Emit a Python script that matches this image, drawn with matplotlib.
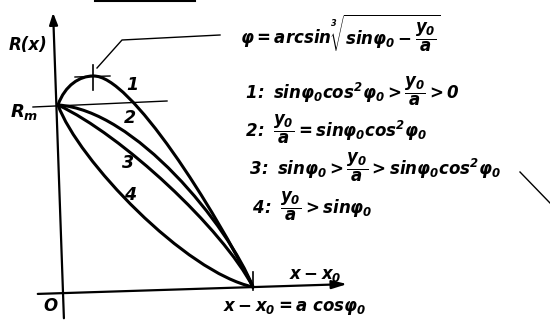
import matplotlib
matplotlib.use("Agg")
import matplotlib.pyplot as plt
from matplotlib.path import Path
from matplotlib.patches import PathPatch, FancyArrowPatch

plt.rcParams.update({
    "font.family": "DejaVu Sans",
    "mathtext.fontset": "custom",
    "mathtext.rm": "DejaVu Sans:italic:bold",
    "mathtext.it": "DejaVu Sans:italic:bold",
    "mathtext.bf": "DejaVu Sans:italic:bold",
})

# diagram in image units (x right, y down), origin at top-left
START = (58, 105)          # R_m on the R axis
END = (253, 287)           # x - x0 = a cos(phi0)
PEAK = (93, 76)            # maximum of curve 1

# cubic Bezier control points of each curve
CURVE1 = [START, (65, 85), (80, 76), PEAK, (130, 74), (215, 210), END]
CURVE2 = [START, (135, 110), (228, 225), END]
CURVE3 = [START, (122, 135), (222, 228), END]
CURVE4 = [START, (78, 160), (185, 272), END]
CURVES = [CURVE1, CURVE2, CURVE3, CURVE4]

CURVE_LABELS = ["1", "2", "3", "4"]
LABEL_POS = [(132, 85), (130, 118), (128, 163), (130, 195)]

SIN = r"\mathrm{sin}\varphi_0"
COS2 = r"\mathrm{cos}^2\varphi_0"
FRAC = r"\dfrac{y_0}{a}"
FORMULA = r"$\varphi = \mathrm{arcsin}\sqrt[3]{" + SIN + " - " + FRAC + "}$"
CASES = [
    "$1\\!:\\ " + SIN + COS2 + " > " + FRAC + " > 0$",
    "$2\\!:\\ " + FRAC + " = " + SIN + COS2 + "$",
    "$3\\!:\\ " + SIN + " > " + FRAC + " > " + SIN + COS2 + "$",
    "$4\\!:\\ " + FRAC + " > " + SIN + "$",
]
CASE_POS = [(245, 91), (245, 129), (249, 167), (252, 206)]

fig = plt.figure(figsize=(5.5, 3.21), dpi=100)
ax = fig.add_axes([0, 0, 1, 1])
ax.set_xlim(0, 550)
ax.set_ylim(321, 0)
ax.axis("off")

# axes of the sketch
ax.add_patch(FancyArrowPatch((64, 321), (53, 10), arrowstyle="-|>,head_length=7,head_width=2.5",
                             lw=1.6, color="black", mutation_scale=1))
ax.add_patch(FancyArrowPatch((35, 294), (350, 284), arrowstyle="-|>,head_length=9,head_width=2.5",
                             lw=1.6, color="black", mutation_scale=1))

for pts in CURVES:
    codes = [Path.MOVETO] + [Path.CURVE4] * (len(pts) - 1)
    ax.add_patch(PathPatch(Path(pts, codes), fill=False, lw=2.2, color="black",
                           capstyle="round", joinstyle="round"))

# R_m level, peak marks, leader line
ax.plot([33, 167], [107, 101], color="black", lw=1.0)
ax.plot([75, 110], [77, 76], color="black", lw=1.0)
ax.plot([93, 93], [65, 90], color="black", lw=1.2)
ax.plot([97, 122, 220], [68, 40, 35], color="black", lw=1.0)
ax.plot([253, 253], [272, 290], color="black", lw=1.2)
ax.plot([520, 550], [172, 203], color="black", lw=1.0)
ax.plot([95, 195], [0.5, 0.5], color="black", lw=1.5)

fs = 12
for lab, (x, y) in zip(CURVE_LABELS, LABEL_POS):
    ax.text(x, y, lab, fontsize=fs + 0.5, style="italic", weight="bold", ha="center", va="center")

ax.text(28, 45, "R(x)", fontsize=fs, style="italic", weight="bold", ha="center", va="center")
ax.text(24, 112, r"$R_m$", fontsize=fs + 1, ha="center", va="center")
ax.text(50, 306, "O", fontsize=fs, style="italic", weight="bold", ha="center", va="center")
ax.text(315, 275, r"$x - x_0$", fontsize=fs, ha="center", va="center")
ax.text(295, 308, r"$x - x_0 = a\ \mathrm{cos}\varphi_0$", fontsize=fs, ha="center", va="center")

ax.text(240, 33, FORMULA, fontsize=fs, ha="left", va="center")
for s, (x, y) in zip(CASES, CASE_POS):
    ax.text(x, y, s, fontsize=fs, ha="left", va="center")

fig.savefig("out.png", dpi=100)
